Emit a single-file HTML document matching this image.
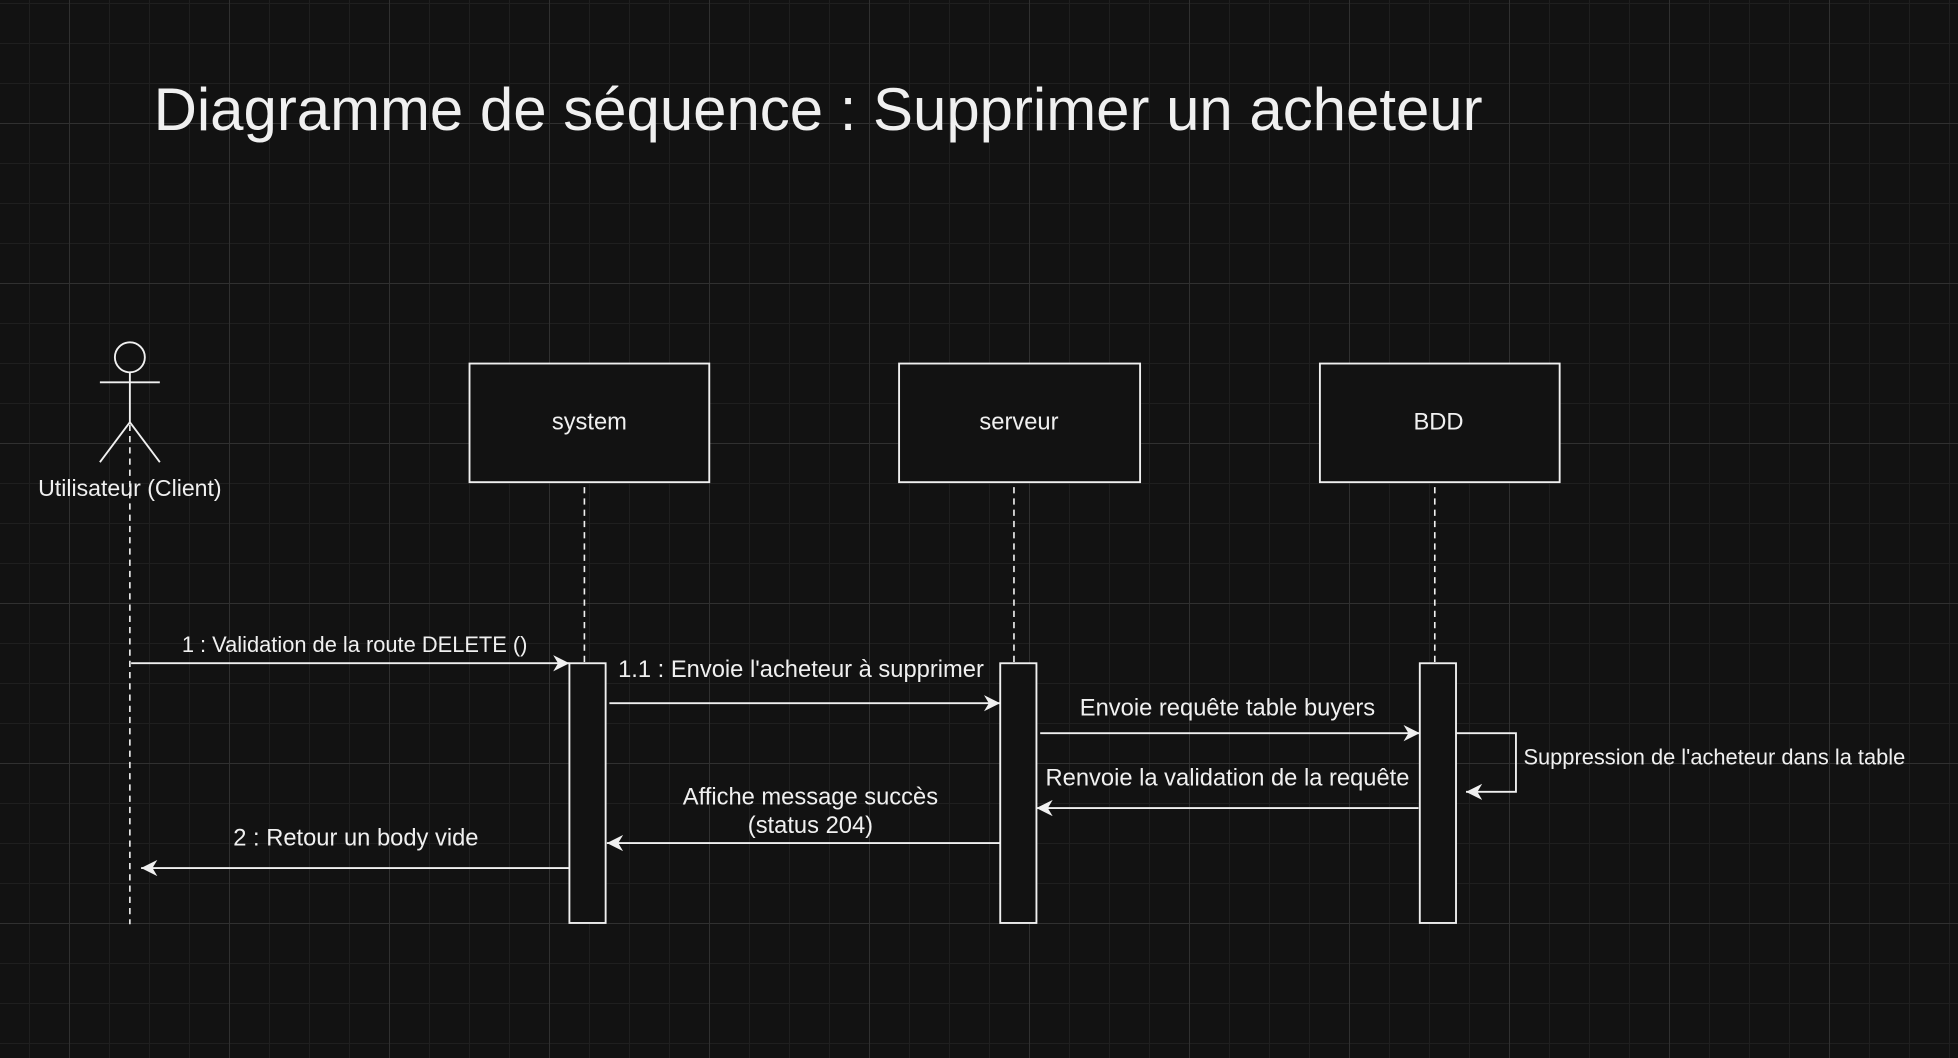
<!DOCTYPE html>
<html><head><meta charset="utf-8"><style>
html,body{margin:0;padding:0;}
body{width:1958px;height:1058px;overflow:hidden;background-color:#121212;
background-image:
linear-gradient(to right,#303030 1px,transparent 1px),
linear-gradient(to bottom,#303030 1px,transparent 1px),
linear-gradient(to right,#1f1f1f 1px,transparent 1px),
linear-gradient(to bottom,#1f1f1f 1px,transparent 1px);
background-size:160px 160px,160px 160px,40px 40px,40px 40px;
background-position:69px 0,0 123px,29px 0,0 3px;}
svg{position:absolute;left:0;top:0;}
text{font-family:"Liberation Sans",sans-serif;fill:#f0f0f0;}
</style></head><body>
<svg width="1958" height="1058" viewBox="0 0 1568 847">
<defs><marker id="a" viewBox="0 0 10 10" refX="10" refY="5" markerWidth="13" markerHeight="13" markerUnits="userSpaceOnUse" orient="auto">
<path d="M0,0 L10,5 L0,10 L3,5 z" fill="#f0f0f0"/></marker></defs>
<text x="123" y="104" font-size="48">Diagramme de séquence : Supprimer un acheteur</text>
<g stroke="#f0f0f0" stroke-width="1.5" fill="none">
<circle cx="104" cy="286" r="12"/>
<line x1="80" y1="306" x2="128" y2="306"/>
<line x1="104" y1="298" x2="104" y2="338"/>
<polyline points="80,370 104,338 128,370"/>
</g>
<text x="104" y="397" font-size="18.5" text-anchor="middle">Utilisateur (Client)</text>
<g stroke="#f0f0f0" stroke-width="1.3" stroke-dasharray="5,4">
<line x1="104" y1="340" x2="104" y2="740"/>
<line x1="468" y1="390" x2="468" y2="531"/>
<line x1="812" y1="390" x2="812" y2="531"/>
<line x1="1149" y1="390" x2="1149" y2="531"/>
</g>
<g stroke="#f0f0f0" stroke-width="1.5" fill="#121212">
<rect x="376" y="291" width="192" height="95"/>
<rect x="720" y="291" width="193" height="95"/>
<rect x="1057" y="291" width="192" height="95"/>
<rect x="456" y="531" width="29" height="208"/>
<rect x="801" y="531" width="29" height="208"/>
<rect x="1137" y="531" width="29" height="208"/>
</g>
<g font-size="19" text-anchor="middle">
<text x="472" y="344">system</text>
<text x="816" y="344">serveur</text>
<text x="1152" y="344">BDD</text>
</g>
<g stroke="#f0f0f0" stroke-width="1.5" fill="none" marker-end="url(#a)">
<line x1="105" y1="531" x2="456" y2="531"/>
<line x1="488" y1="563" x2="801" y2="563"/>
<line x1="833" y1="587" x2="1137" y2="587"/>
<polyline points="1166,587 1214,587 1214,634 1174,634"/>
<line x1="1136" y1="647" x2="830" y2="647"/>
<line x1="801" y1="675" x2="486" y2="675"/>
<line x1="456" y1="695" x2="113" y2="695"/>
</g>
<text x="284" y="522" font-size="17.5" text-anchor="middle">1 : Validation de la route DELETE ()</text>
<text x="495" y="542" font-size="19">1.1 : Envoie l'acheteur à supprimer</text>
<text x="983" y="573" font-size="19" text-anchor="middle">Envoie requête table buyers</text>
<text x="1220" y="612" font-size="17.5">Suppression de l'acheteur dans la table</text>
<text x="983" y="629" font-size="19" text-anchor="middle">Renvoie la validation de la requête</text>
<text x="649" y="644" font-size="19" text-anchor="middle">Affiche message succès</text>
<text x="649" y="667" font-size="19" text-anchor="middle">(status 204)</text>
<text x="285" y="677" font-size="19" text-anchor="middle">2 : Retour un body vide</text>
</svg>
</body></html>
